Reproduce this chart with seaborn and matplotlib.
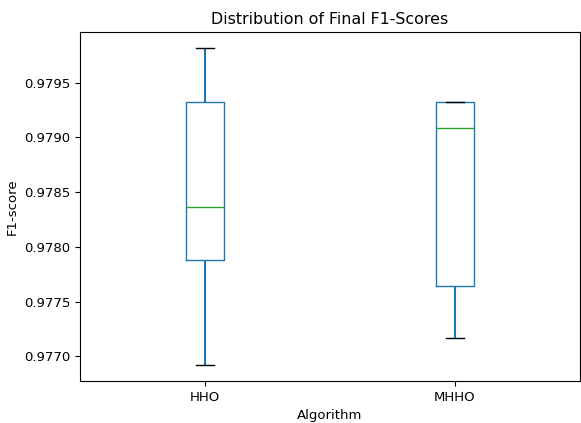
import seaborn as sns
import matplotlib.pyplot as plt
import pandas as pd

# Final F1-scores per run
algorithms = ["HHO", "MHHO"]
hho_scores = [0.976918, 0.977882, 0.978364, 0.979327, 0.979818]
mhho_scores = [0.977164, 0.977645, 0.979091, 0.979327, 0.979327]

df = pd.DataFrame({
    "Algorithm": [algorithms[0]] * len(hho_scores) + [algorithms[1]] * len(mhho_scores),
    "F1": hho_scores + mhho_scores,
})

plt.style.use("default")
plt.rcParams["font.size"] = 9.5
plt.rcParams["xtick.major.size"] = 3.3
plt.rcParams["ytick.major.size"] = 3.3

fig, ax = plt.subplots(figsize=(5.81, 4.23), dpi=100)
fig.subplots_adjust(left=0.138, right=0.998, top=0.924, bottom=0.099)

sns.boxplot(
    data=df, x="Algorithm", y="F1", ax=ax,
    width=0.15, whis=1.5, fill=False, color="C0",
    boxprops=dict(color="C0", linewidth=1),
    whiskerprops=dict(color="C0", linewidth=1.5),
    capprops=dict(color="black", linewidth=1),
    medianprops=dict(color="C2", linewidth=1),
)

ax.set_title("Distribution of Final F1-Scores", fontsize=11.4)
ax.set_xlabel("Algorithm")
ax.set_ylabel("F1-score")

plt.savefig("out.png", dpi=100)
plt.close()
